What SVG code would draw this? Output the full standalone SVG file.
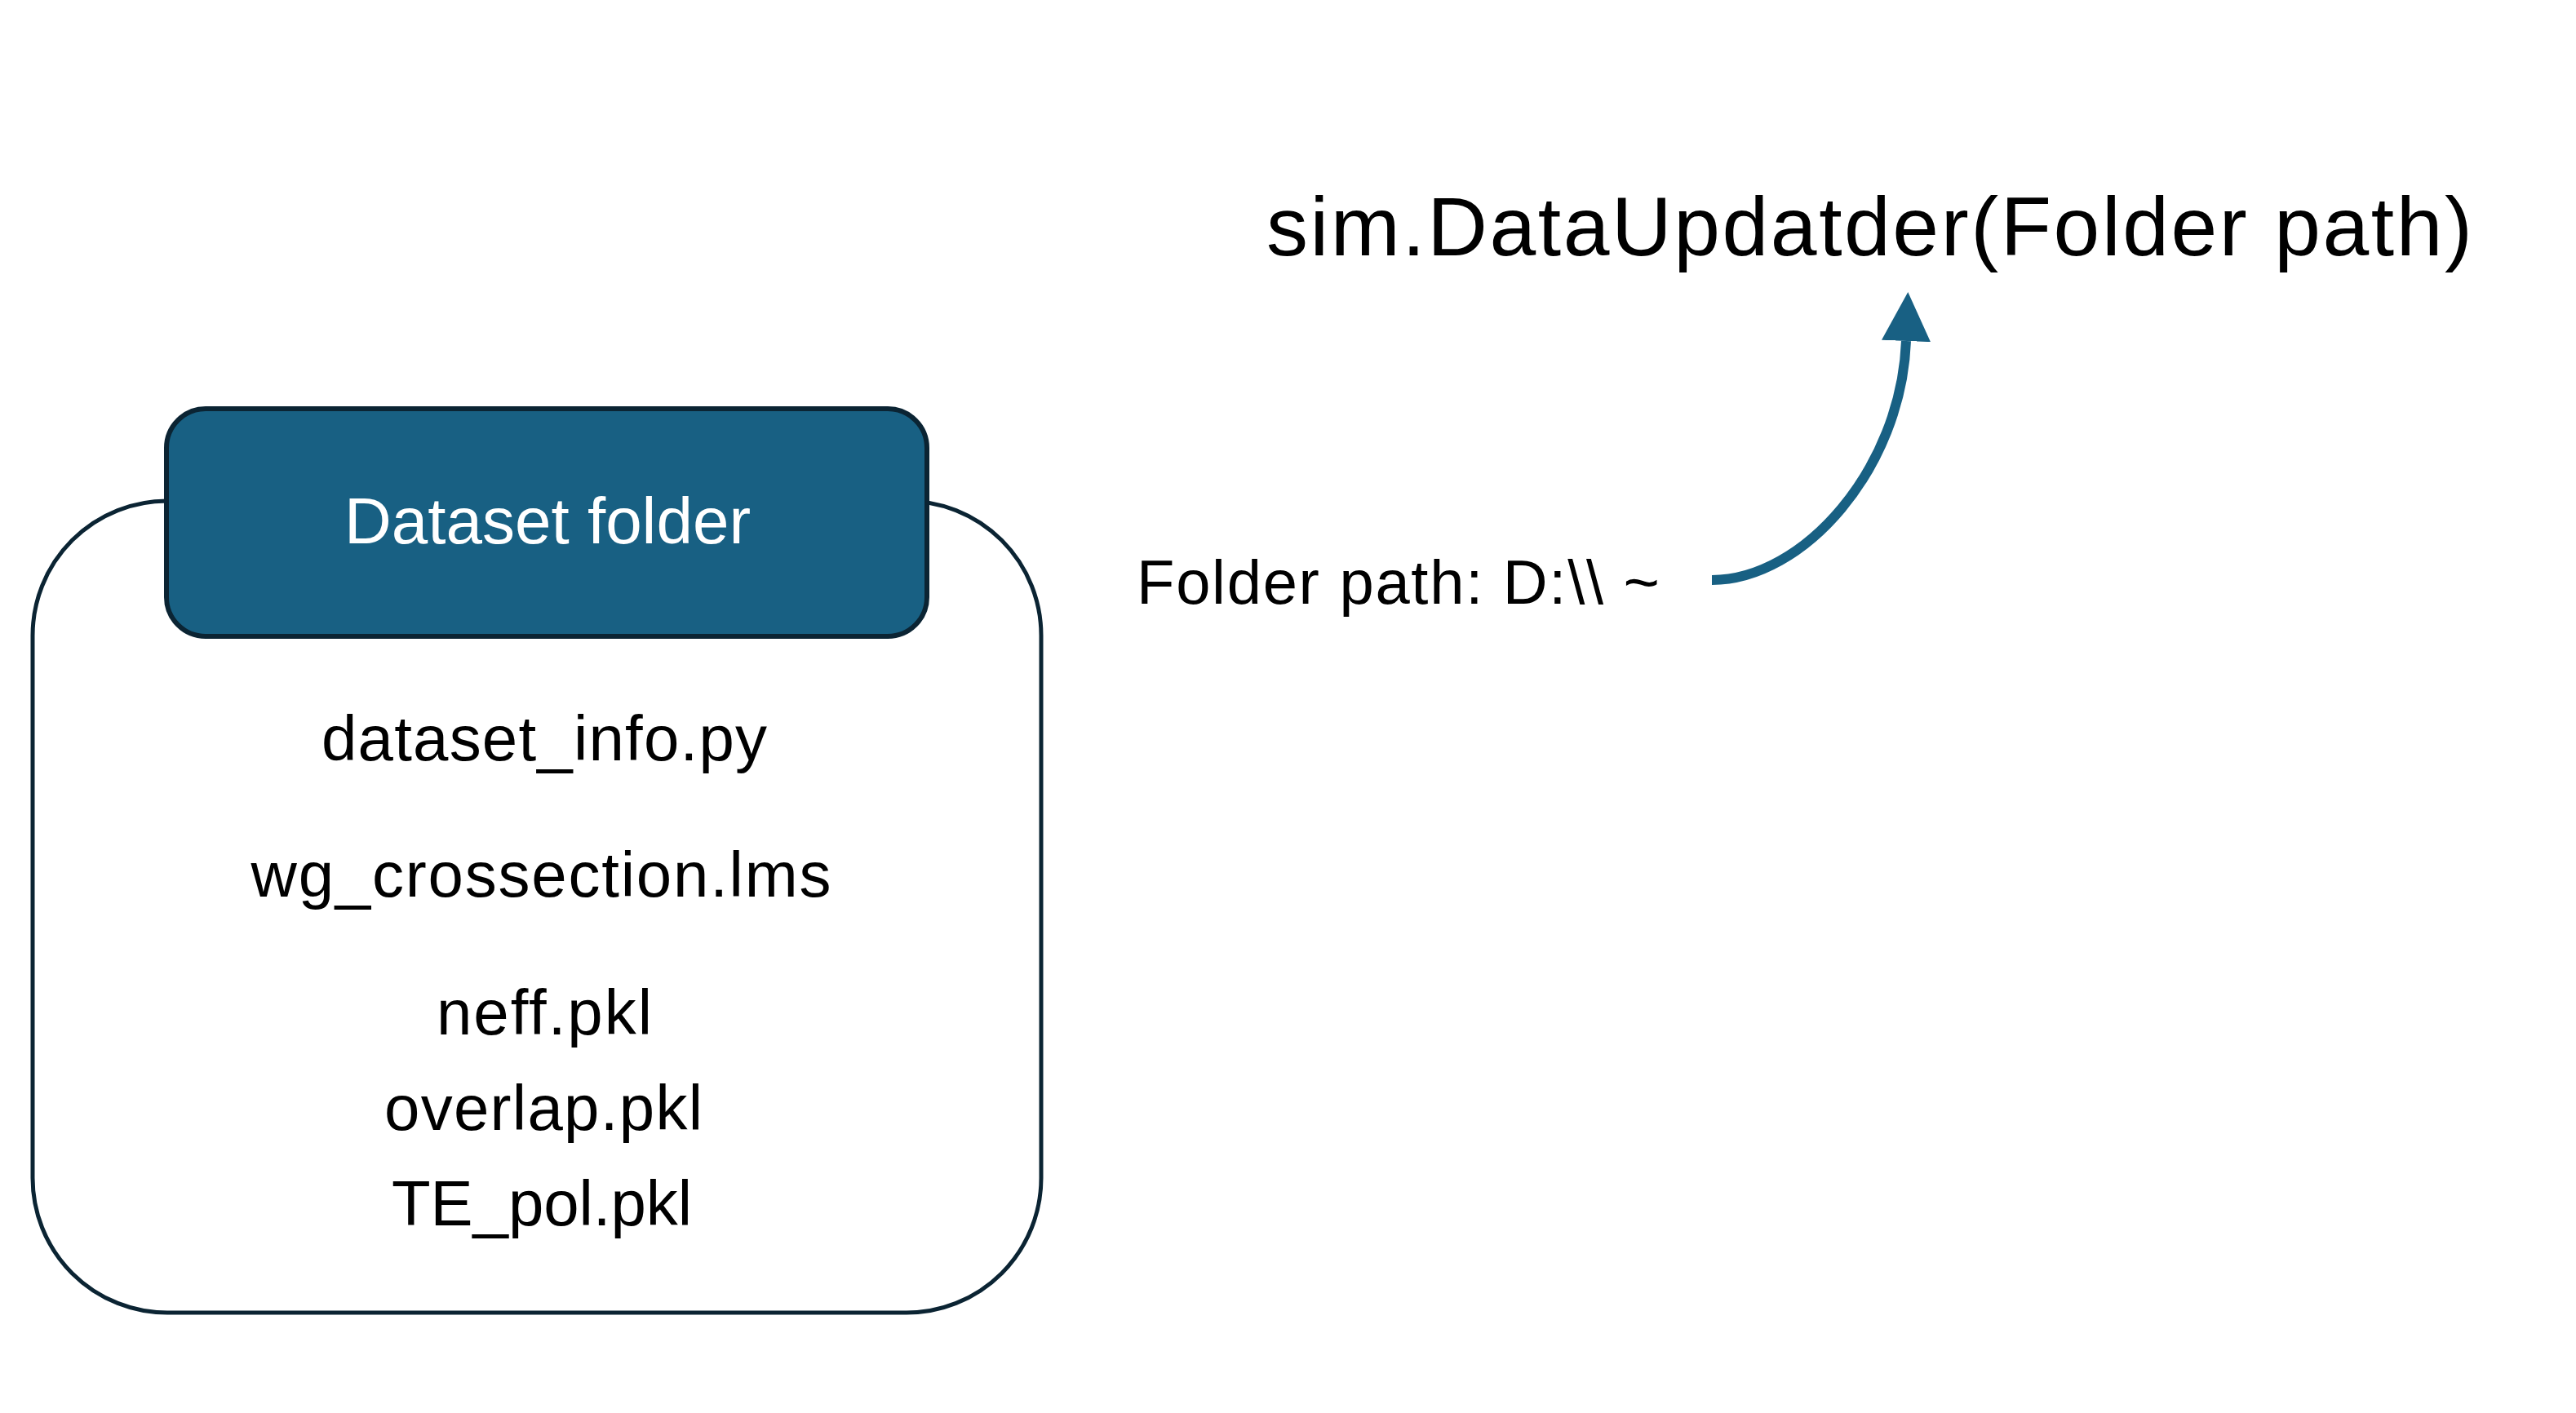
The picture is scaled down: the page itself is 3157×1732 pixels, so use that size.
<svg xmlns="http://www.w3.org/2000/svg" width="3157" height="1732" viewBox="0 0 3157 1732">
<style>
.t{font-family:"Liberation Sans",Arial,sans-serif;fill:#000;text-anchor:middle}
.item{font-size:78px}
.lbl{font-family:"Liberation Sans",Arial,sans-serif;fill:#000}
</style>
<defs>
<marker id="ah" markerUnits="userSpaceOnUse" markerWidth="60" markerHeight="60" viewBox="0 0 56 56" refX="0" refY="28" orient="auto">
<path d="M0,0 L56,28 L0,56 z" fill="#186083"/>
</marker>
</defs>
<rect width="3157" height="1732" fill="#fff"/>
<g id="dataset-folder">
<rect x="40" y="614" width="1236" height="995" rx="165" ry="165" fill="#fff" stroke="#0b2433" stroke-width="5"/>
<rect x="204" y="501" width="932" height="279" rx="48" ry="48" fill="#186083" stroke="#0b2433" stroke-width="6"/>
<text class="t" x="671" y="666" font-size="80" style="fill:#fff">Dataset folder</text>
<text class="t item" x="667" y="932" textLength="546">dataset_info.py</text>
<text class="t item" x="663" y="1099" textLength="711">wg_crossection.lms</text>
<text class="t item" x="667" y="1268" textLength="264">neff.pkl</text>
<text class="t item" x="666" y="1385" textLength="390">overlap.pkl</text>
<text class="t item" x="664" y="1502" textLength="368">TE_pol.pkl</text>
</g>
<g id="function-call">
<text class="lbl" x="1552" y="313" font-size="102" textLength="1478">sim.DataUpdatder(Folder path)</text>
</g>
<g id="folder-path">
<text class="lbl" x="1393" y="740" font-size="76" textLength="641">Folder path: D:\\ ~</text>
</g>
<g id="connectors">
<path d="M2098,711 C2210,711 2330,575 2336,418" fill="none" stroke="#186083" stroke-width="12" marker-end="url(#ah)"/>
</g>
</svg>
